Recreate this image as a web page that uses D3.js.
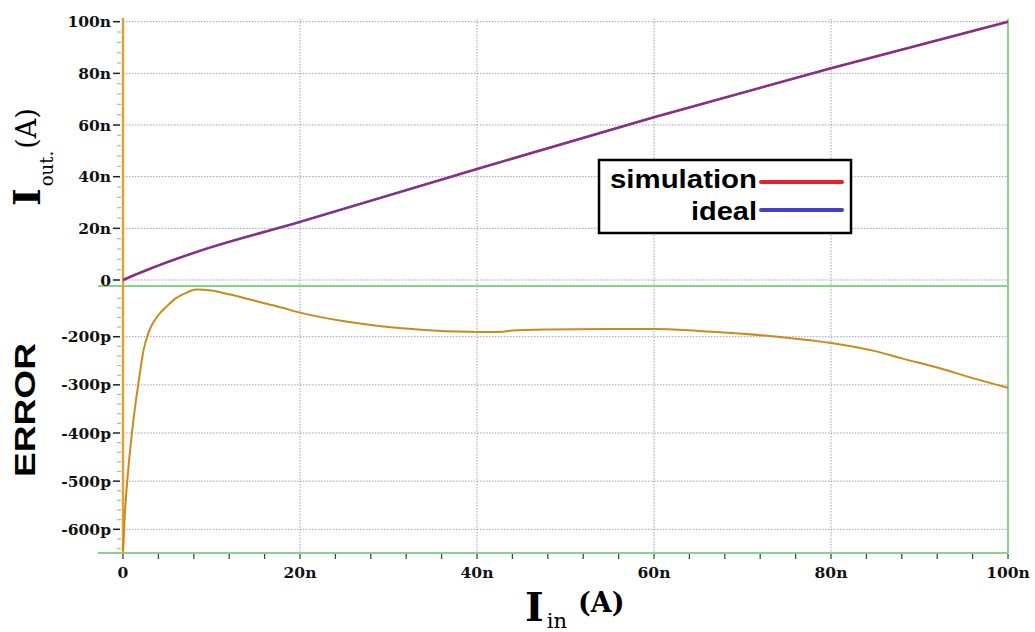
<!DOCTYPE html>
<html lang="en">
<head>
    <meta charset="UTF-8">
    <title>Iout and error vs Iin</title>
    <script src="https://d3js.org/d3.v7.min.js"></script>
    <style>
        body { margin: 0; background: #fff; }
    </style>
</head>
<body>
    <svg width="1035" height="632"></svg>
    <script>
        // input current (nA) and output current (nA)
        const lineIin = [0, 2, 5, 8.7, 20, 40, 60, 80, 100];
        const idealIout = [0, 2.9, 6.9, 11.3, 22.5, 43, 63, 82, 100];
        const simIout = [0, 2.9, 6.9, 11.3, 22.5, 43, 63, 82, 100];

        // error curve, Iin in nA, error in pA
        const errIin = [0, 0.2, 0.6, 1.2, 1.8, 2.3, 3.0, 4, 5, 6, 7, 8.3, 10, 12, 15, 18, 20, 25, 30, 35, 40, 42.6, 44, 48, 55, 60, 65, 70, 75, 80, 85, 88, 92, 96, 100];
        const errPA = [-645, -570, -475, -370, -290, -230, -186, -155, -136, -120, -110, -102, -104, -112, -126, -140, -150, -168, -180, -187, -190, -190, -187, -185, -184, -184, -188, -194, -202, -213, -230, -245, -264, -286, -306];

        const xTicks = [0, 20, 40, 60, 80, 100];
        const xTickLabels = ['0', '20n', '40n', '60n', '80n', '100n'];
        const topTicks = [0, 20, 40, 60, 80, 100];
        const topTickLabels = ['0', '20n', '40n', '60n', '80n', '100n'];
        const botTicks = [-200, -300, -400, -500, -600];
        const botTickLabels = ['-200p', '-300p', '-400p', '-500p', '-600p'];
        const legendNames = ['simulation', 'ideal'];
        const legendColors = ['#e8202a', '#4040c8'];

        const svg = d3.select('svg');
        const left = 123, right = 1008;
        const topY0 = 19, sepY = 286, botY1 = 553;

        const x = d3.scaleLinear().domain([0, 100]).range([left, right]);
        const yTop = d3.scaleLinear().domain([0, 100]).range([280, 21.7]);
        const yBot = d3.scaleLinear().domain([-200, -600]).range([336.7, 529.3]);

        const gridColor = '#9c9cc8';
        const labelFont = 'DejaVu Serif';

        // horizontal grid
        svg.selectAll('.hgt').data(topTicks).join('line')
            .attr('x1', left).attr('x2', right)
            .attr('y1', d => yTop(d)).attr('y2', d => yTop(d))
            .attr('stroke', gridColor).attr('stroke-dasharray', '1.5,1.5');
        svg.selectAll('.hgb').data(botTicks).join('line')
            .attr('x1', left).attr('x2', right)
            .attr('y1', d => yBot(d)).attr('y2', d => yBot(d))
            .attr('stroke', gridColor).attr('stroke-dasharray', '1.5,1.5');
        // vertical grid
        svg.selectAll('.vg').data(xTicks.filter(d => d > 0 && d < 100)).join('line')
            .attr('x1', d => x(d)).attr('x2', d => x(d))
            .attr('y1', topY0).attr('y2', botY1)
            .attr('stroke', gridColor).attr('stroke-dasharray', '1.5,1.5');

        // green frame lines
        const green = '#86d486';
        svg.append('line').attr('x1', 98).attr('x2', right).attr('y1', sepY).attr('y2', sepY)
            .attr('stroke', green).attr('stroke-width', 2);
        svg.append('line').attr('x1', 98).attr('x2', right).attr('y1', botY1).attr('y2', botY1)
            .attr('stroke', green).attr('stroke-width', 2);
        svg.append('line').attr('x1', right).attr('x2', right).attr('y1', topY0).attr('y2', botY1)
            .attr('stroke', green).attr('stroke-width', 2);

        // minor ticks on the left
        const minorTop = d3.range(0, 101, 4).filter(d => d % 20 !== 0);
        svg.selectAll('.mt').data(minorTop).join('line')
            .attr('x1', 117).attr('x2', 121)
            .attr('y1', d => yTop(d)).attr('y2', d => yTop(d))
            .attr('stroke', green).attr('stroke-width', 1.2);
        const minorBot = d3.range(-120, -641, -20).filter(d => d % 100 !== 0);
        svg.selectAll('.mb').data(minorBot).join('line')
            .attr('x1', 117).attr('x2', 121)
            .attr('y1', d => yBot(d)).attr('y2', d => yBot(d))
            .attr('stroke', green).attr('stroke-width', 1.2);

        // bottom x ticks
        svg.selectAll('.xt').data(d3.range(0, 101, 4)).join('line')
            .attr('x1', d => x(d)).attr('x2', d => x(d))
            .attr('y1', botY1 + 1).attr('y2', botY1 + 6)
            .attr('stroke', '#444').attr('stroke-width', 1.3);

        // tick labels
        svg.selectAll('.xl').data(xTicks).join('text')
            .attr('x', d => x(d)).attr('y', 578)
            .attr('text-anchor', 'middle')
            .attr('font-family', labelFont).attr('font-weight', 'bold').attr('font-size', 15.5)
            .attr('fill', '#111')
            .text((d, i) => xTickLabels[i]);

        function yLabels(ticks, labels, scale) {
            const g = svg.append('g');
            g.selectAll('text').data(ticks).join('text')
                .attr('x', 111).attr('y', d => scale(d) + 5.5)
                .attr('text-anchor', 'end')
                .attr('font-family', labelFont).attr('font-weight', 'bold').attr('font-size', 15.5)
                .attr('fill', '#111')
                .text((d, i) => labels[i]);
            g.selectAll('line').data(ticks).join('line')
                .attr('x1', 113).attr('x2', 120)
                .attr('y1', d => scale(d)).attr('y2', d => scale(d))
                .attr('stroke', '#222').attr('stroke-width', 1.5);
        }
        yLabels(topTicks, topTickLabels, yTop);
        yLabels(botTicks, botTickLabels, yBot);

        // orange left axis line
        svg.append('line').attr('x1', left).attr('x2', left).attr('y1', 18).attr('y2', botY1)
            .attr('stroke', '#e0a040').attr('stroke-width', 2.5);

        // top panel lines
        const lineTop = d3.line().x((d, i) => x(lineIin[i])).y(d => yTop(d)).curve(d3.curveMonotoneX);
        svg.append('path').attr('d', lineTop(simIout))
            .attr('fill', 'none').attr('stroke', legendColors[0]).attr('stroke-width', 2.5);
        svg.append('path').attr('d', lineTop(idealIout))
            .attr('fill', 'none').attr('stroke', legendColors[1]).attr('stroke-width', 2.2)
            .attr('stroke-opacity', 0.68);

        // error curve
        const lineErr = d3.line()
            .x((d, i) => x(errIin[i]))
            .y(d => yBot(d))
            .curve(d3.curveMonotoneX);
        svg.append('path').attr('d', lineErr(errPA))
            .attr('fill', 'none').attr('stroke', '#cc8a1c').attr('stroke-width', 2);

        // legend
        svg.append('rect').attr('x', 599).attr('y', 160).attr('width', 252).attr('height', 73)
            .attr('fill', '#fff').attr('stroke', '#000').attr('stroke-width', 2.5);
        const legY = [188, 220];
        const legLineY = [182, 210];
        const legLen = [147, 66];
        legendNames.forEach((name, i) => {
            svg.append('text').attr('x', 757).attr('y', legY[i])
                .attr('text-anchor', 'end')
                .attr('font-family', 'Liberation Sans, Arial, sans-serif')
                .attr('font-weight', 'bold').attr('font-size', 25)
                .attr('textLength', legLen[i]).attr('lengthAdjust', 'spacingAndGlyphs')
                .text(name);
            svg.append('line').attr('x1', 761).attr('x2', 842)
                .attr('y1', legLineY[i]).attr('y2', legLineY[i])
                .attr('stroke', legendColors[i]).attr('stroke-width', 4)
                .attr('stroke-linecap', 'round');
        });

        // y label: I_out (A)
        const yl = svg.append('text')
            .attr('transform', 'translate(40,206) rotate(-90)')
            .attr('font-family', labelFont).attr('fill', '#000');
        yl.append('tspan').attr('font-size', 38).attr('font-weight', 'bold').text('I');
        yl.append('tspan').attr('font-size', 18).attr('dy', 13).attr('dx', 2).text('out.');
        yl.append('tspan').attr('font-size', 27).attr('dy', -17).attr('dx', 2).text('(A)');

        // ERROR label
        svg.append('text')
            .attr('transform', 'translate(35,410) rotate(-90)')
            .attr('text-anchor', 'middle')
            .attr('font-family', 'Liberation Sans, Arial, sans-serif')
            .attr('font-weight', 'bold').attr('font-size', 30)
            .attr('textLength', 134).attr('lengthAdjust', 'spacingAndGlyphs')
            .text('ERROR');

        // x label: I_in (A)
        const xl = svg.append('text')
            .attr('x', 525).attr('y', 621)
            .attr('font-family', labelFont).attr('fill', '#000');
        xl.append('tspan').attr('font-size', 40).attr('font-weight', 'bold').text('I');
        xl.append('tspan').attr('font-size', 21).attr('dy', 7).attr('dx', 3).text('in');
        xl.append('tspan').attr('font-size', 27).attr('font-weight', 'bold').attr('dy', -16).attr('dx', 11).text('(A)');
    </script>
</body>
</html>
